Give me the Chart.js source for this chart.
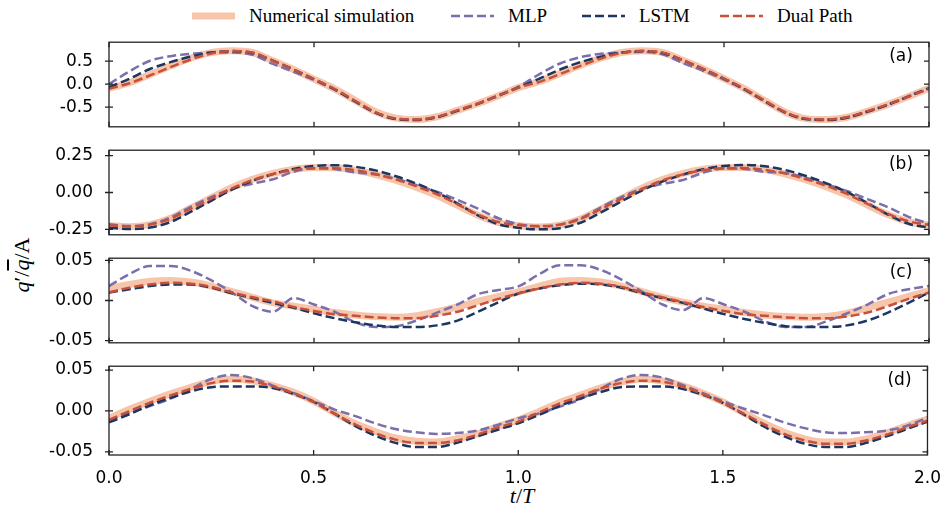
<!DOCTYPE html>
<html>
<head>
<meta charset="utf-8">
<script src="https://cdn.jsdelivr.net/npm/chart.js@4.4.0/dist/chart.umd.min.js"></script>
<style>
body { margin: 0; background: #fff; }
#fig { position: relative; width: 946px; height: 510px; overflow: hidden; }
#fig canvas { position: absolute; left: 0; }
.leg { position: absolute; top: 4px; height: 24px; font: 19px "Liberation Serif"; color: #000; line-height: 24px; white-space: nowrap; }
.leg svg { position: absolute; top: 0; }
#ylab { position: absolute; left: 22px; top: 265px; transform: translate(-50%, -50%) rotate(-90deg); font: 22px "Liberation Serif"; white-space: nowrap; }
#xlab { position: absolute; left: 522px; top: 496px; transform: translate(-50%, -50%); font: 22px "Liberation Serif"; white-space: nowrap; }
.ov { text-decoration: overline; }
</style>
</head>
<body>
<div id="fig">
  <div id="legend"></div>
  <div id="ylab"><i>q</i>′/<i class="ov">q</i>/A</div>
  <div id="xlab"><i>t</i>/<i>T</i></div>
</div>
<script>
var t = [0.00, 0.05, 0.10, 0.15, 0.20, 0.25, 0.30, 0.35, 0.40, 0.45, 0.50, 0.55, 0.60, 0.65, 0.70, 0.75, 0.80, 0.85, 0.90, 0.95, 1.00,
         1.05, 1.10, 1.15, 1.20, 1.25, 1.30, 1.35, 1.40, 1.45, 1.50, 1.55, 1.60, 1.65, 1.70, 1.75, 1.80, 1.85, 1.90, 1.95, 2.00];

var seriesNames = ["Numerical simulation", "MLP", "LSTM", "Dual Path"];

// (a)
var numA  = [-0.09, 0.03, 0.21, 0.40, 0.57, 0.69, 0.73, 0.69, 0.51, 0.32, 0.11, -0.10, -0.35, -0.60, -0.74, -0.77, -0.71, -0.57, -0.42, -0.25, -0.07,
             0.06, 0.23, 0.41, 0.57, 0.69, 0.73, 0.69, 0.52, 0.33, 0.12, -0.10, -0.36, -0.61, -0.75, -0.77, -0.72, -0.59, -0.44, -0.27, -0.09];
var mlpA  = [0.00, 0.28, 0.51, 0.61, 0.66, 0.69, 0.69, 0.64, 0.44, 0.27, 0.09, -0.12, -0.38, -0.62, -0.75, -0.77, -0.71, -0.57, -0.42, -0.24, -0.05,
             0.22, 0.45, 0.59, 0.66, 0.69, 0.70, 0.65, 0.46, 0.29, 0.10, -0.12, -0.38, -0.62, -0.76, -0.77, -0.72, -0.59, -0.44, -0.26, -0.08];
var lstmA = [-0.07, 0.12, 0.33, 0.48, 0.60, 0.69, 0.72, 0.68, 0.51, 0.32, 0.11, -0.11, -0.37, -0.62, -0.76, -0.78, -0.72, -0.58, -0.43, -0.25, -0.07,
             0.12, 0.32, 0.48, 0.60, 0.69, 0.72, 0.68, 0.52, 0.33, 0.12, -0.11, -0.37, -0.62, -0.76, -0.78, -0.73, -0.60, -0.45, -0.27, -0.09];
var dualA = [-0.10, 0.02, 0.19, 0.37, 0.54, 0.67, 0.72, 0.69, 0.51, 0.32, 0.11, -0.10, -0.36, -0.61, -0.75, -0.77, -0.71, -0.57, -0.42, -0.25, -0.07,
             0.05, 0.22, 0.40, 0.56, 0.68, 0.72, 0.69, 0.52, 0.33, 0.12, -0.10, -0.36, -0.61, -0.75, -0.77, -0.72, -0.59, -0.44, -0.27, -0.10];

// (b)
var numB  = [-0.225, -0.232, -0.218, -0.175, -0.105, -0.035, 0.035, 0.090, 0.130, 0.158, 0.170, 0.168, 0.152, 0.122, 0.082, 0.035, -0.020, -0.088, -0.155, -0.205, -0.225,
             -0.234, -0.222, -0.180, -0.112, -0.040, 0.030, 0.088, 0.130, 0.158, 0.170, 0.170, 0.155, 0.125, 0.085, 0.038, -0.018, -0.085, -0.150, -0.200, -0.222];
var mlpB  = [-0.215, -0.228, -0.215, -0.170, -0.095, -0.030, 0.025, 0.060, 0.090, 0.140, 0.165, 0.160, 0.136, 0.122, 0.092, 0.050, 0.005, -0.050, -0.110, -0.175, -0.215,
             -0.230, -0.218, -0.175, -0.100, -0.030, 0.025, 0.058, 0.085, 0.135, 0.163, 0.160, 0.140, 0.132, 0.100, 0.055, 0.010, -0.045, -0.100, -0.165, -0.212];
var lstmB = [-0.240, -0.248, -0.238, -0.200, -0.130, -0.055, 0.020, 0.080, 0.125, 0.160, 0.180, 0.185, 0.175, 0.150, 0.110, 0.060, 0.000, -0.075, -0.155, -0.215, -0.240,
             -0.250, -0.242, -0.205, -0.135, -0.060, 0.015, 0.075, 0.122, 0.158, 0.180, 0.187, 0.178, 0.152, 0.112, 0.062, 0.002, -0.072, -0.150, -0.212, -0.238];
var dualB = [-0.222, -0.230, -0.218, -0.178, -0.110, -0.040, 0.028, 0.085, 0.125, 0.153, 0.165, 0.165, 0.152, 0.125, 0.088, 0.042, -0.012, -0.080, -0.150, -0.200, -0.222,
             -0.228, -0.218, -0.180, -0.112, -0.042, 0.025, 0.082, 0.123, 0.152, 0.165, 0.166, 0.154, 0.128, 0.090, 0.045, -0.010, -0.078, -0.145, -0.195, -0.220];

// (c)
var numC  = [0.015, 0.020, 0.024, 0.025, 0.023, 0.018, 0.011, 0.004, -0.003, -0.007, -0.011, -0.015, -0.018, -0.020, -0.021, -0.019, -0.014, -0.008, -0.001, 0.005, 0.011,
             0.018, 0.024, 0.025, 0.023, 0.018, 0.011, 0.004, -0.002, -0.007, -0.011, -0.015, -0.018, -0.020, -0.021, -0.020, -0.016, -0.009, -0.002, 0.005, 0.012];
var mlpC  = [0.018, 0.033, 0.043, 0.043, 0.037, 0.025, 0.010, -0.007, -0.014, 0.003, -0.005, -0.014, -0.027, -0.033, -0.032, -0.025, -0.015, -0.005, 0.008, 0.013, 0.018,
             0.033, 0.044, 0.044, 0.038, 0.026, 0.011, -0.005, -0.012, 0.003, -0.005, -0.014, -0.026, -0.033, -0.033, -0.026, -0.016, -0.005, 0.008, 0.014, 0.018];
var lstmC = [0.010, 0.014, 0.018, 0.020, 0.020, 0.016, 0.009, 0.003, -0.003, -0.009, -0.016, -0.022, -0.027, -0.031, -0.033, -0.033, -0.031, -0.025, -0.014, -0.002, 0.009,
             0.015, 0.019, 0.021, 0.020, 0.016, 0.009, 0.003, -0.003, -0.010, -0.017, -0.023, -0.028, -0.032, -0.033, -0.033, -0.031, -0.025, -0.015, -0.003, 0.010];
var dualC = [0.010, 0.016, 0.020, 0.022, 0.021, 0.017, 0.010, 0.004, -0.001, -0.008, -0.013, -0.017, -0.019, -0.021, -0.022, -0.022, -0.019, -0.014, -0.006, 0.002, 0.009,
             0.015, 0.020, 0.022, 0.021, 0.017, 0.010, 0.004, -0.002, -0.008, -0.013, -0.017, -0.019, -0.021, -0.022, -0.022, -0.020, -0.015, -0.007, 0.002, 0.010];

// (d)
var numD  = [-0.009, 0.002, 0.012, 0.021, 0.029, 0.036, 0.039, 0.037, 0.031, 0.023, 0.012, -0.002, -0.015, -0.025, -0.033, -0.037, -0.038, -0.034, -0.028, -0.019, -0.011,
             -0.001, 0.010, 0.019, 0.028, 0.035, 0.039, 0.037, 0.031, 0.022, 0.011, -0.002, -0.015, -0.026, -0.034, -0.038, -0.038, -0.034, -0.027, -0.018, -0.010];
var mlpD  = [-0.012, -0.002, 0.006, 0.015, 0.027, 0.039, 0.044, 0.040, 0.031, 0.022, 0.012, 0.002, -0.006, -0.015, -0.022, -0.026, -0.028, -0.027, -0.024, -0.017, -0.009,
             -0.003, 0.005, 0.014, 0.027, 0.039, 0.044, 0.041, 0.032, 0.022, 0.012, 0.003, -0.005, -0.014, -0.021, -0.026, -0.027, -0.026, -0.024, -0.018, -0.008];
var lstmD = [-0.014, -0.004, 0.007, 0.016, 0.024, 0.029, 0.030, 0.030, 0.028, 0.021, 0.011, -0.003, -0.018, -0.030, -0.039, -0.044, -0.044, -0.039, -0.031, -0.023, -0.015,
             -0.005, 0.006, 0.015, 0.023, 0.029, 0.030, 0.030, 0.027, 0.020, 0.010, -0.004, -0.019, -0.031, -0.040, -0.044, -0.044, -0.039, -0.031, -0.022, -0.013];
var dualD = [-0.011, 0.000, 0.010, 0.019, 0.027, 0.034, 0.037, 0.036, 0.030, 0.022, 0.011, -0.003, -0.016, -0.027, -0.035, -0.039, -0.039, -0.036, -0.029, -0.020, -0.013,
             -0.002, 0.009, 0.018, 0.027, 0.034, 0.037, 0.036, 0.030, 0.021, 0.010, -0.003, -0.016, -0.028, -0.036, -0.040, -0.040, -0.036, -0.029, -0.020, -0.012];

var xTicks = [0, 0.5, 1, 1.5, 2];
var xTickLabels = ["0.0", "0.5", "1.0", "1.5", "2.0"];
var yTicksA = [-0.5, 0, 0.5],      yTickLabelsA = ["-0.5", "0.0", "0.5"];
var yTicksB = [-0.25, 0, 0.25],    yTickLabelsB = ["-0.25", "0.00", "0.25"];
var yTicksC = [-0.05, 0, 0.05],    yTickLabelsC = ["-0.05", "0.00", "0.05"];
var yTicksD = [-0.05, 0, 0.05],    yTickLabelsD = ["-0.05", "0.00", "0.05"];

var colors = ["#f7c6aa", "#7a6fac", "#1c3561", "#c8503a"];
var widths = [7, 2.5, 2.5, 2.5];
var dashes = [[], [9, 4], [9, 4], [9, 4]];
var drawOrder = [4, 3, 2, 1];   // lower is drawn on top

var PAD = 14, PLOT_H = 93, LEFT = 109, RIGHT_PAD = 17, X_AXIS_H = 30;

var panels = [
    { tag: "(a)", top: 38,  min: -0.928, max: 0.914,  ticks: yTicksA, labels: yTickLabelsA, series: [numA, mlpA, lstmA, dualA], showX: false },
    { tag: "(b)", top: 146, min: -0.287, max: 0.287,  ticks: yTicksB, labels: yTickLabelsB, series: [numB, mlpB, lstmB, dualB], showX: false },
    { tag: "(c)", top: 254, min: -0.0527, max: 0.0527, ticks: yTicksC, labels: yTickLabelsC, series: [numC, mlpC, lstmC, dualC], showX: false },
    { tag: "(d)", top: 362, min: -0.0538, max: 0.0547, ticks: yTicksD, labels: yTickLabelsD, series: [numD, mlpD, lstmD, dualD], showX: true }
];

/* frame with inward ticks and the panel letter */
var framePlugin = {
    id: "frame",
    afterDraw: function(chart, args, opts) {
        var a = chart.chartArea, ctx = chart.ctx;
        var xs = chart.scales.x, ys = chart.scales.y;
        ctx.save();
        ctx.strokeStyle = "#222";
        ctx.lineWidth = 1.3;
        ctx.strokeRect(a.left, a.top, a.right - a.left, a.bottom - a.top);
        ctx.beginPath();
        xTicks.forEach(function(v) {
            var px = xs.getPixelForValue(v);
            ctx.moveTo(px, a.bottom); ctx.lineTo(px, a.bottom - 5);
            ctx.moveTo(px, a.top); ctx.lineTo(px, a.top + 5);
        });
        opts.ticks.forEach(function(v) {
            var py = ys.getPixelForValue(v);
            ctx.moveTo(a.left - 4, py); ctx.lineTo(a.left + 4, py);
            ctx.moveTo(a.right, py); ctx.lineTo(a.right - 5, py);
        });
        ctx.stroke();
        ctx.fillStyle = "#000";
        ctx.font = '17px "DejaVu Sans"';
        ctx.textAlign = "center";
        ctx.textBaseline = "middle";
        ctx.fillText(opts.tag, a.right - 28, a.top + 14);
        ctx.restore();
    }
};

function makePanel(p) {
    var canvas = document.createElement("canvas");
    var h = PAD + PLOT_H + (p.showX ? X_AXIS_H : PAD);
    canvas.width = 946;
    canvas.height = h;
    canvas.style.top = (p.top - PAD) + "px";
    document.getElementById("fig").appendChild(canvas);

    var datasets = p.series.map(function(s, k) {
        return {
            label: seriesNames[k],
            data: t.map(function(x, i) { return { x: x, y: s[i] }; }),
            borderColor: colors[k],
            borderWidth: widths[k],
            borderDash: dashes[k],
            order: drawOrder[k],
            pointRadius: 0,
            cubicInterpolationMode: "monotone",
            fill: false
        };
    });

    new Chart(canvas.getContext("2d"), {
        type: "line",
        data: { datasets: datasets },
        plugins: [framePlugin],
        options: {
            responsive: false,
            animation: false,
            devicePixelRatio: 1,
            layout: { padding: { left: 0, right: RIGHT_PAD, top: PAD, bottom: p.showX ? 0 : PAD } },
            plugins: {
                legend: { display: false },
                tooltip: { enabled: false },
                frame: { ticks: p.ticks, tag: p.tag }
            },
            scales: {
                x: {
                    type: "linear", min: 0, max: 2, display: p.showX,
                    grid: { display: false }, border: { display: false },
                    ticks: {
                        color: "#000", padding: 5, maxRotation: 0, autoSkip: false,
                        font: { family: "DejaVu Sans", size: 17 },
                        callback: function(v, i) { return xTickLabels[i]; }
                    },
                    afterBuildTicks: function(s) { s.ticks = xTicks.map(function(v) { return { value: v }; }); },
                    afterFit: function(s) { s.height = p.showX ? X_AXIS_H : 0; }
                },
                y: {
                    type: "linear", min: p.min, max: p.max,
                    grid: { display: false }, border: { display: false },
                    ticks: {
                        color: "#000", padding: 8,
                        font: { family: "DejaVu Sans", size: 17 },
                        callback: function(v, i) { return p.labels[i]; }
                    },
                    afterBuildTicks: function(s) { s.ticks = p.ticks.map(function(v) { return { value: v }; }); },
                    afterFit: function(s) { s.width = LEFT; }
                }
            }
        }
    });
}

function makeLegend() {
    var starts = [192, 451, 582, 720];
    var html = "";
    for (var k = 0; k < seriesNames.length; k++) {
        var x0 = starts[k];
        var dash = dashes[k].length ? ' stroke-dasharray="' + dashes[k].join(",") + '"' : "";
        html += '<div class="leg" style="left:' + x0 + 'px">' +
            '<svg width="44" height="24"><line x1="0" y1="12" x2="43" y2="12" stroke="' + colors[k] +
            '" stroke-width="' + widths[k] + '"' + dash + '/></svg>' +
            '<span style="margin-left:57px">' + seriesNames[k] + '</span></div>';
    }
    document.getElementById("legend").innerHTML = html;
}

makeLegend();
panels.forEach(makePanel);
</script>
</body>
</html>
